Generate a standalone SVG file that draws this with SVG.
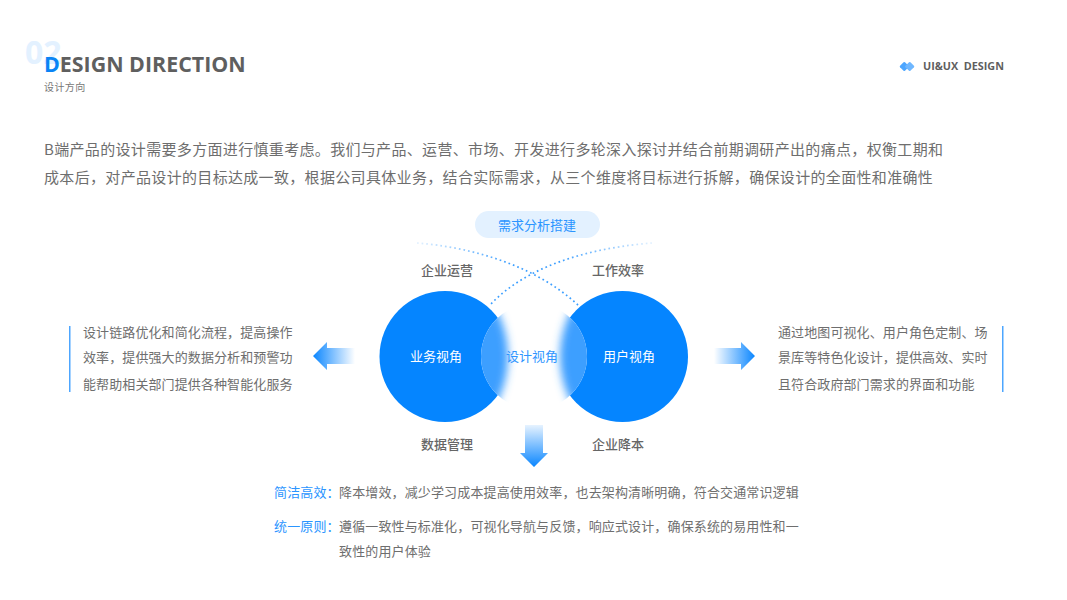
<svg xmlns="http://www.w3.org/2000/svg" width="1067" height="600" viewBox="0 0 1067 600">
<defs>
<style>
text{font-family:"Noto Sans CJK SC","Noto Sans",sans-serif}
.b{font-size:15px;fill:#6e6e6e;letter-spacing:.33px}
.s{font-size:13px;fill:#6e6e6e;letter-spacing:.1px}
.l{font-size:13px;fill:#666;font-weight:500;text-anchor:middle}
.c{font-size:13px;fill:#fff;text-anchor:middle}
.t{font-size:13px;fill:#6e6e6e;letter-spacing:.14px}
.h{font-size:13px;fill:#2b95ff;letter-spacing:.14px}
.dot{fill:none;stroke-width:1.7;stroke-dasharray:1.7 3}
.cir{fill:#0585ff}
.en{font-family:"Open Sans",sans-serif}
.lensfill{fill:#3d9fff;filter:url(#soft)}
</style>
<filter id="soft" filterUnits="userSpaceOnUse" x="280" y="200" width="510" height="320"><feGaussianBlur stdDeviation="4.5"/></filter>
<clipPath id="lensclip"><circle cx="534" cy="356.500" r="53"/></clipPath>
<linearGradient id="aR" x1="0" x2="1" y1="0" y2="0"><stop offset="0" stop-color="#0a86ff" stop-opacity="0"/><stop offset="1" stop-color="#0a86ff"/></linearGradient>
<linearGradient id="aL" x1="1" x2="0" y1="0" y2="0"><stop offset="0" stop-color="#0a86ff" stop-opacity="0"/><stop offset="1" stop-color="#0a86ff"/></linearGradient>
<linearGradient id="aD" x1="0" x2="0" y1="0" y2="1"><stop offset="0" stop-color="#0a86ff" stop-opacity=".1"/><stop offset="1" stop-color="#0a86ff"/></linearGradient>
<linearGradient id="d1" gradientUnits="userSpaceOnUse" x1="417" x2="510" y1="243" y2="243"><stop offset="0" stop-color="#3d9fff" stop-opacity=".15"/><stop offset="1" stop-color="#3d9fff"/></linearGradient>
<linearGradient id="d2" gradientUnits="userSpaceOnUse" x1="652" x2="560" y1="243" y2="243"><stop offset="0" stop-color="#3d9fff" stop-opacity=".15"/><stop offset="1" stop-color="#3d9fff"/></linearGradient>
</defs>
<rect width="1067" height="600" fill="#fff"/>
<g id="header">
<text class="en" x="25" y="64" font-size="32" font-weight="700" fill="#e3f1ff">02</text>
<text class="en" x="44" y="72" font-size="21.4" font-weight="700" fill="#5f5f5f"><tspan fill="#0a84f5">D</tspan>ESIGN DIRECTION</text>
<text x="44" y="91" font-size="10" fill="#777" letter-spacing=".4">设计方向</text>
<rect x="900.800" y="63" width="7" height="7" rx="1" transform="rotate(45 904.300 66.500)" fill="#4da6ff"/>
<rect x="906.200" y="63" width="7" height="7" rx="1" transform="rotate(45 909.700 66.500)" fill="#6fb7ff"/>
<text class="en" x="923" y="70" font-size="10.800" font-weight="700" fill="#5f5f5f" style="white-space:pre">UI&amp;UX  DESIGN</text>
</g>
<g id="intro">
<text class="b" x="44" y="155">B端产品的设计需要多方面进行慎重考虑。我们与产品、运营、市场、开发进行多轮深入探讨并结合前期调研产出的痛点，权衡工期和</text>
<text class="b" x="44" y="183">成本后，对产品设计的目标达成一致，根据公司具体业务，结合实际需求，从三个维度将目标进行拆解，确保设计的全面性和准确性</text>
</g>
<g id="connectors">
<path class="dot" stroke="url(#d1)" d="M417 243C470 247 535 265 578 305"/>
<path class="dot" stroke="url(#d2)" d="M652 243C600 247 530 262 490 305"/>
<path d="M355 348h-28v-6l-14 14 14 14v-6h28z" fill="url(#aL)"/>
<path d="M714 348h27v-6l14 14-14 14v-6h-27z" fill="url(#aR)"/>
<path d="M525 425h18v28h5l-14 14-14-14h5z" fill="url(#aD)"/>
</g>
<g id="pill"><rect x="475" y="211" width="125" height="27" rx="13.500" fill="#e3f1ff"/><text x="537" y="230" font-size="13" fill="#2b95ff" text-anchor="middle">需求分析搭建</text></g>
<g id="node-left"><circle class="cir" cx="445" cy="356.500" r="65.500"/></g>
<g id="node-right"><circle class="cir" cx="622.500" cy="356.500" r="65.500"/></g>
<g id="node-center">
<g clip-path="url(#lensclip)">
<rect x="481" y="303" width="106" height="107" fill="#fff"/>
<circle class="lensfill" cx="408" cy="356.500" r="100"/>
<circle class="lensfill" cx="660" cy="356.500" r="100"/>
</g>
<text x="532" y="361" font-size="13" fill="#2f95ff" text-anchor="middle">设计视角</text>
</g>
<text class="c" x="436" y="361">业务视角</text>
<text class="c" x="629" y="361">用户视角</text>
<g id="labels">
<text class="l" x="447" y="275">企业运营</text>
<text class="l" x="618" y="275">工作效率</text>
<text class="l" x="447" y="449">数据管理</text>
<text class="l" x="618" y="449">企业降本</text>
</g>
<g id="left-note">
<rect x="69" y="326" width="1.500" height="66" fill="#4da6ff"/>
<text class="s" x="83" y="337">设计链路优化和简化流程，提高操作</text>
<text class="s" x="83" y="362">效率，提供强大的数据分析和预警功</text>
<text class="s" x="83" y="389">能帮助相关部门提供各种智能化服务</text>
</g>
<g id="right-note">
<rect x="1002" y="326" width="1.500" height="66" fill="#4da6ff"/>
<text class="s" x="778" y="337">通过地图可视化、用户角色定制、场</text>
<text class="s" x="778" y="362">景库等特色化设计，提供高效、实时</text>
<text class="s" x="778" y="389">且符合政府部门需求的界面和功能</text>
</g>
<g id="bottom">
<text class="h" x="274" y="497">简洁高效：</text>
<text class="t" x="339" y="497">降本增效，减少学习成本提高使用效率，也去架构清晰明确，符合交通常识逻辑</text>
<text class="h" x="274" y="531">统一原则：</text>
<text class="t" x="339" y="531">遵循一致性与标准化，可视化导航与反馈，响应式设计，确保系统的易用性和一</text>
<text class="t" x="339" y="556">致性的用户体验</text>
</g>
</svg>
